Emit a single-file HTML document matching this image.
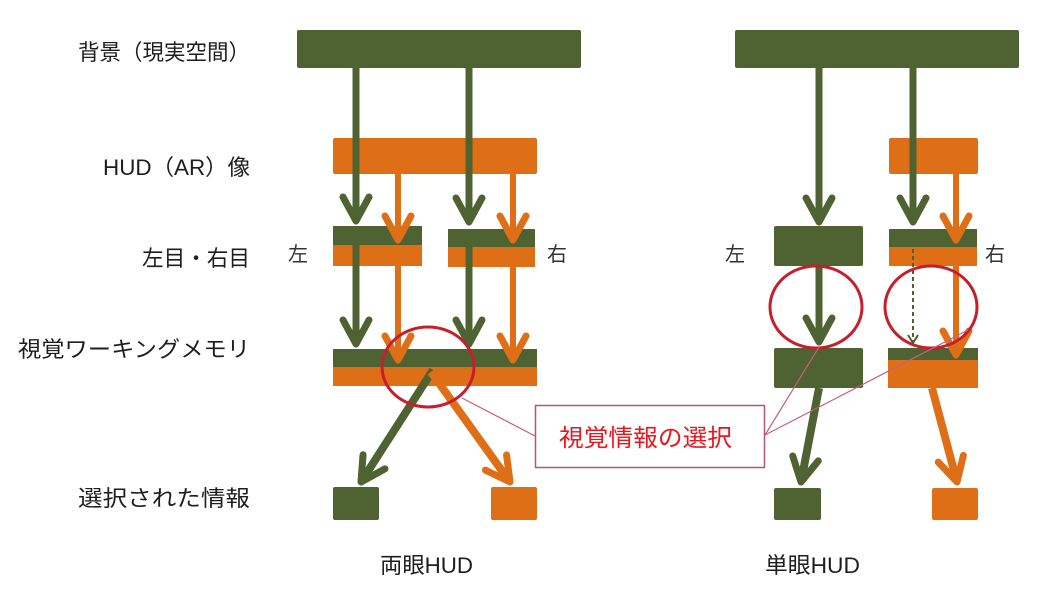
<!DOCTYPE html>
<html><head><meta charset="utf-8"><style>
html,body{margin:0;padding:0;background:#fff;}
svg{display:block;}
text{font-family:"Liberation Sans","Noto Sans CJK JP",sans-serif;}
</style></head><body>
<svg width="1038" height="591" viewBox="0 0 1038 591" xmlns="http://www.w3.org/2000/svg">
<defs>
<marker id="ag" markerUnits="userSpaceOnUse" markerWidth="80" markerHeight="80" viewBox="-40 -40 80 80" refX="0" refY="0" orient="auto" overflow="visible">
<path d="M-24,-13 L0,0 L-24,13" fill="none" stroke="#4f6232" stroke-width="7" stroke-linecap="round" stroke-linejoin="round"/>
</marker>
<marker id="ao" markerUnits="userSpaceOnUse" markerWidth="80" markerHeight="80" viewBox="-40 -40 80 80" refX="0" refY="0" orient="auto" overflow="visible">
<path d="M-24,-13 L0,0 L-24,13" fill="none" stroke="#df6f17" stroke-width="7" stroke-linecap="round" stroke-linejoin="round"/>
</marker>
<marker id="ad" markerUnits="userSpaceOnUse" markerWidth="30" markerHeight="30" viewBox="-15 -15 30 30" refX="0" refY="0" orient="auto" overflow="visible">
<path d="M-8,-5 L0,0 L-8,5" fill="none" stroke="#4f6232" stroke-width="2"/>
</marker>
</defs>

<!-- Labels -->
<g fill="#1e1e1e" font-size="22">
<text x="250" y="60" text-anchor="end" textLength="172" lengthAdjust="spacingAndGlyphs">背景（現実空間）</text>
<text x="250" y="175" text-anchor="end" textLength="147" lengthAdjust="spacingAndGlyphs">HUD（AR）像</text>
<text x="250" y="266" text-anchor="end" textLength="108" lengthAdjust="spacingAndGlyphs">左目・右目</text>
<text x="250" y="357" text-anchor="end" textLength="232" lengthAdjust="spacingAndGlyphs">視覚ワーキングメモリ</text>
<text x="250" y="506" text-anchor="end" textLength="172" lengthAdjust="spacingAndGlyphs">選択された情報</text>
<text x="380" y="573" textLength="93" lengthAdjust="spacingAndGlyphs">両眼HUD</text>
<text x="765" y="573" textLength="95" lengthAdjust="spacingAndGlyphs">単眼HUD</text>
</g>
<g fill="#333" font-size="20">
<text x="288" y="261">左</text>
<text x="547" y="261">右</text>
<text x="725" y="261">左</text>
<text x="985" y="261">右</text>
</g>

<!-- Binocular boxes -->
<g>
<rect x="297" y="30" width="284" height="38" rx="2" fill="#4f6232"/>
<rect x="333" y="138" width="204" height="36" rx="2" fill="#df6f17"/>
<rect x="333" y="226" width="89" height="19" fill="#4f6232"/>
<rect x="333" y="245" width="89" height="21" fill="#df6f17"/>
<rect x="448" y="229" width="87" height="18" fill="#4f6232"/>
<rect x="448" y="247" width="87" height="20" fill="#df6f17"/>
<rect x="333" y="349" width="204" height="18" fill="#4f6232"/>
<rect x="333" y="367" width="204" height="19" fill="#df6f17"/>
<rect x="333" y="487" width="46" height="33" rx="2" fill="#4f6232"/>
<rect x="491" y="487" width="46" height="33" rx="2" fill="#df6f17"/>
</g>

<!-- Monocular boxes -->
<g>
<rect x="735" y="30" width="284" height="38" rx="2" fill="#4f6232"/>
<rect x="889" y="138" width="89" height="36" rx="2" fill="#df6f17"/>
<rect x="774" y="226" width="89" height="40" rx="2" fill="#4f6232"/>
<rect x="889" y="229" width="88" height="18" fill="#4f6232"/>
<rect x="889" y="247" width="88" height="19" fill="#df6f17"/>
<rect x="774" y="348" width="89" height="40" rx="2" fill="#4f6232"/>
<rect x="888" y="348" width="90" height="12" fill="#4f6232"/>
<rect x="888" y="360" width="90" height="28" fill="#df6f17"/>
<rect x="774" y="488" width="47" height="32" rx="2" fill="#4f6232"/>
<rect x="932" y="488" width="46" height="32" rx="2" fill="#df6f17"/>
</g>

<!-- Binocular arrows -->
<g stroke="#4f6232" stroke-width="7" fill="none">
<line x1="356" y1="68" x2="356" y2="221" marker-end="url(#ag)"/>
<line x1="356" y1="245" x2="356" y2="344" marker-end="url(#ag)"/>
<line x1="469" y1="68" x2="469" y2="222" marker-end="url(#ag)"/>
<line x1="469" y1="247" x2="469" y2="344" marker-end="url(#ag)"/>
<line x1="433" y1="370" x2="361" y2="482" stroke-width="8" marker-end="url(#ag)"/>
</g>
<g stroke="#df6f17" stroke-width="6" fill="none">
<line x1="398" y1="174" x2="398" y2="240" marker-end="url(#ao)"/>
<line x1="398" y1="266" x2="398" y2="360" marker-end="url(#ao)"/>
<line x1="513" y1="174" x2="513" y2="240" marker-end="url(#ao)"/>
<line x1="513" y1="267" x2="513" y2="360" marker-end="url(#ao)"/>
<line x1="431" y1="372" x2="510" y2="482" stroke-width="8" marker-end="url(#ao)"/>
</g>

<!-- Monocular arrows -->
<g stroke="#4f6232" stroke-width="7" fill="none">
<line x1="819" y1="68" x2="819" y2="222" marker-end="url(#ag)"/>
<line x1="819" y1="266" x2="819" y2="342" marker-end="url(#ag)"/>
<line x1="913" y1="68" x2="913" y2="222" marker-end="url(#ag)"/>
<line x1="819" y1="388" x2="801" y2="482" stroke-width="8" marker-end="url(#ag)"/>
</g>
<line x1="913" y1="249" x2="913" y2="343" stroke="#4f6232" stroke-width="2" stroke-dasharray="4 3" marker-end="url(#ad)"/>
<g stroke="#df6f17" stroke-width="6" fill="none">
<line x1="956" y1="174" x2="956" y2="240" marker-end="url(#ao)"/>
<line x1="956" y1="266" x2="956" y2="355" marker-end="url(#ao)"/>
<line x1="932" y1="388" x2="957" y2="482" stroke-width="8" marker-end="url(#ao)"/>
</g>

<!-- Red circles -->
<g fill="none" stroke="#c61f2c" stroke-width="3">
<ellipse cx="428" cy="367" rx="46" ry="40"/>
<ellipse cx="816" cy="307" rx="46" ry="41"/>
<ellipse cx="931" cy="307" rx="46" ry="41"/>
</g>

<!-- Callout -->
<rect x="535.5" y="405.5" width="229" height="62" fill="#fff" stroke="#b4566e" stroke-width="1.5"/>
<g stroke="#c4607c" stroke-width="1.2">
<line x1="535" y1="436" x2="462" y2="398"/>
<line x1="765" y1="435" x2="819" y2="347"/>
<line x1="765" y1="435" x2="968" y2="330"/>
</g>
<text x="559" y="446" font-size="24" fill="#e8161e" textLength="173" lengthAdjust="spacingAndGlyphs">視覚情報の選択</text>
</svg>
</body></html>
